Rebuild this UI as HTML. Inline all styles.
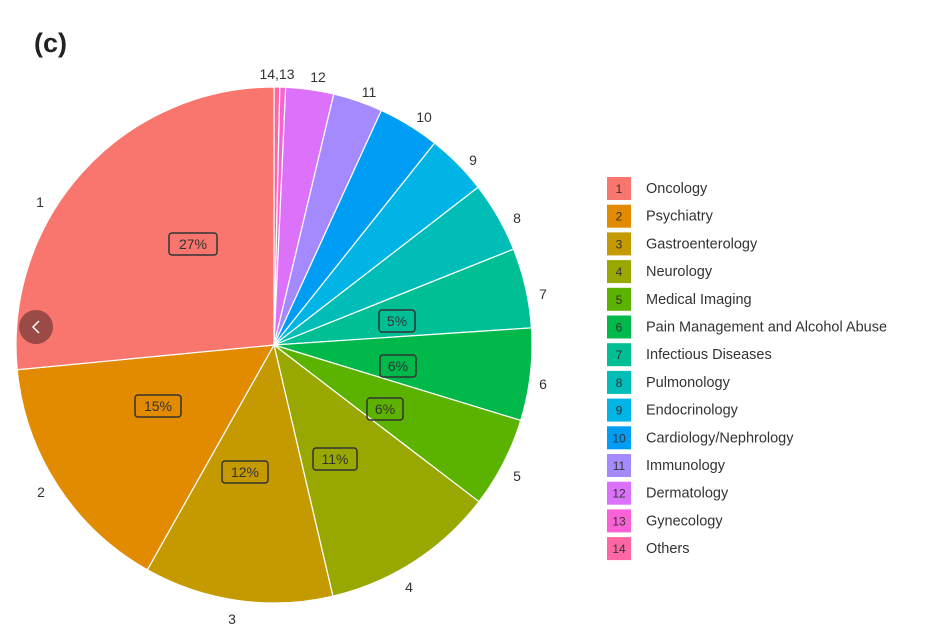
<!DOCTYPE html>
<html><head><meta charset="utf-8"><style>
body{margin:0;background:#fff;width:930px;height:638px;overflow:hidden;font-family:"Liberation Sans",Arial,sans-serif}
</style></head><body>
<svg id="s" width="930" height="638" xmlns="http://www.w3.org/2000/svg">
<text x="34" y="52" font-size="27" font-weight="bold" fill="#222">(c)</text>
<g id="pie"></g>
<g id="lab" font-size="14" fill="#333"></g>
<g id="leg" font-size="14.5" fill="#333"></g>
<circle cx="36" cy="327" r="17" fill="#9a4a47"/>
<path d="M39 321 L33 327 L39 333" stroke="#fff" stroke-width="1.5" fill="none"/>
</svg>
<script>
const cx=274,cy=345,r=258;
const b=[0,1.3,2.6,13.4,24.6,38.5,52.3,68.2,86.2,107,127.4,166.8,209.4,264.5,360];
const cols=["#F8766D","#E28A00","#C49A00","#99A800","#5BB300","#00B94A","#00BF95","#00BDB8","#00B5E5","#009DF5","#A58AFF","#DC71FA","#FB61D7","#FF67A4"];
const names=["Oncology","Psychiatry","Gastroenterology","Neurology","Medical Imaging","Pain Management and Alcohol Abuse","Infectious Diseases","Pulmonology","Endocrinology","Cardiology/Nephrology","Immunology","Dermatology","Gynecology","Others"];
function pt(a,rr){a=a*Math.PI/180;return [cx+rr*Math.sin(a),cy-rr*Math.cos(a)];}
let h="";
for(let i=0;i<14;i++){
 const n=14-i, a0=b[i],a1=b[i+1];
 const p0=pt(a0,r),p1=pt(a1,r);
 h+=`<path d="M${cx} ${cy} L${p0[0]} ${p0[1]} A${r} ${r} 0 ${a1-a0>180?1:0} 1 ${p1[0]} ${p1[1]} Z" fill="${cols[n-1]}" stroke="#fff" stroke-width="1.2"/>`;
}
document.getElementById('pie').innerHTML=h;
const L=[["1",40,207],["2",41,497],["3",232,624],["4",409,592],["5",517,481],["6",543,389],["7",543,299],["8",517,223],["9",473,165],["10",424,122],["11",369,97],["12",318,82],["14,13",277,79]];
let t="";for(const l of L)t+=`<text x="${l[1]}" y="${l[2]}" text-anchor="middle">${l[0]}</text>`;
const P=[["27%",193,244,48],["15%",158,406,46],["12%",245,472,46],["11%",335,459,44],["6%",385,409,36],["6%",398,366,36],["5%",397,321,36]];
for(const p of P){t+=`<rect x="${p[1]-p[3]/2}" y="${p[2]-11}" width="${p[3]}" height="22" rx="3" fill="none" stroke="#333" stroke-width="1.5"/><text x="${p[1]}" y="${p[2]+5}" text-anchor="middle" font-size="14">${p[0]}</text>`;}
document.getElementById('lab').innerHTML=t;
let g="";for(let i=0;i<14;i++){const y=177+i*27.7;g+=`<rect x="607" y="${y}" width="24" height="23" fill="${cols[i]}"/><text x="619" y="${y+16}" text-anchor="middle" font-size="12">${i+1}</text><text x="646" y="${y+16}">${names[i]}</text>`;}
document.getElementById('leg').innerHTML=g;
</script>
</body></html>
